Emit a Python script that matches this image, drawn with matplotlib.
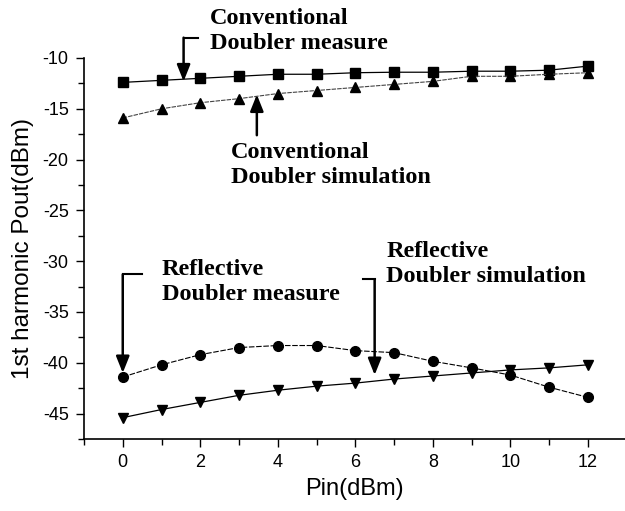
import numpy as np
import matplotlib
matplotlib.use("Agg")
import matplotlib.pyplot as plt
from matplotlib.ticker import MultipleLocator

plt.rcParams["axes.unicode_minus"] = False

# Pin (dBm)
pin = [0, 1, 2, 3, 4, 5, 6, 7, 8, 9, 10, 11, 12]

# 1st harmonic Pout (dBm)
conv_measure = [-12.4, -12.2, -12.0, -11.8, -11.6, -11.6, -11.45, -11.4, -11.4, -11.3, -11.3, -11.2, -10.8]
conv_sim = [-15.9, -15.0, -14.4, -14.0, -13.5, -13.2, -12.9, -12.6, -12.3, -11.8, -11.8, -11.6, -11.45]
refl_measure = [-41.4, -40.2, -39.2, -38.5, -38.3, -38.3, -38.8, -39.0, -39.85, -40.5, -41.2, -42.4, -43.4]
refl_sim = [-45.4, -44.6, -43.9, -43.2, -42.7, -42.3, -42.0, -41.6, -41.3, -41.0, -40.7, -40.5, -40.2]

fig = plt.figure(figsize=(6.25, 5.11), dpi=100)
ax = fig.add_axes([84 / 625, 72 / 511, 541 / 625, 381 / 511])

ax.plot(pin, conv_measure, color="black", lw=0.9, marker="s", ms=6.5, clip_on=False)
ax.plot(pin, conv_sim, color="#444444", lw=0.8, ls=(0, (4, 1)), marker="^", ms=7,
        mfc="black", mec="black", clip_on=False)
ax.plot(pin, refl_measure, color="black", lw=0.8, ls=(0, (5, 1.5)), marker="o", ms=7, clip_on=False)
ax.plot(pin, refl_sim, color="black", lw=0.9, marker="v", ms=7.5, clip_on=False)

ax.set_xlim(-1, 12.96)
ax.set_ylim(-47.5, -10)
ax.xaxis.set_major_locator(MultipleLocator(2))
ax.xaxis.set_minor_locator(MultipleLocator(1))
ax.yaxis.set_major_locator(MultipleLocator(5))
ax.yaxis.set_minor_locator(MultipleLocator(2.5))
ax.set_xticks(range(0, 13, 2))
ax.tick_params(which="major", direction="out", length=6, width=1, labelsize=13, pad=5)
ax.tick_params(which="minor", direction="out", length=4, width=1)
for lbl in ax.get_xticklabels() + ax.get_yticklabels():
    lbl.set_family("Liberation Sans")
ax.spines["top"].set_visible(False)
ax.spines["right"].set_visible(False)
ax.spines["left"].set_linewidth(1.2)
ax.spines["bottom"].set_linewidth(1.2)

ax.set_xlabel("Pin(dBm)", family="Liberation Sans", fontsize=17, labelpad=5)
ax.set_ylabel("1st harmonic Pout(dBm)", family="Liberation Sans", fontsize=17.5, labelpad=6)

serif = dict(family="Liberation Serif", fontweight="bold", fontsize=17.5,
             linespacing=1.25, va="center", ha="left", clip_on=False)
ax.text(2.25, -7.3, "Conventional\nDoubler measure", **serif)
ax.text(2.8, -20.5, "Conventional\nDoubler simulation", **serif)
ax.text(1.0, -32.0, "Reflective\nDoubler measure", **serif)
ax.text(6.8, -30.3, "Reflective\nDoubler simulation", **serif)

arrow = dict(arrowstyle="-|>,head_length=1.0,head_width=0.4", color="black", lw=1.8,
             shrinkA=0, shrinkB=0)
# conventional measure: hook at top, pointing down
ax.annotate("", xy=(1.57, -12.3), xytext=(1.57, -8.0), arrowprops=arrow, annotation_clip=False)
ax.plot([1.57, 1.94], [-8.0, -8.0], color="black", lw=1.5, clip_on=False)
# conventional simulation: pointing up
ax.annotate("", xy=(3.46, -13.6), xytext=(3.46, -17.6), arrowprops=arrow)
# reflective measure
ax.annotate("", xy=(0.0, -41.0), xytext=(0.0, -31.3), arrowprops=arrow)
ax.plot([0.0, 0.5], [-31.3, -31.3], color="black", lw=1.5)
# reflective simulation
ax.annotate("", xy=(6.5, -41.2), xytext=(6.5, -31.8), arrowprops=arrow)
ax.plot([6.2, 6.5], [-31.8, -31.8], color="black", lw=1.5)

fig.savefig("out.png", dpi=100)
